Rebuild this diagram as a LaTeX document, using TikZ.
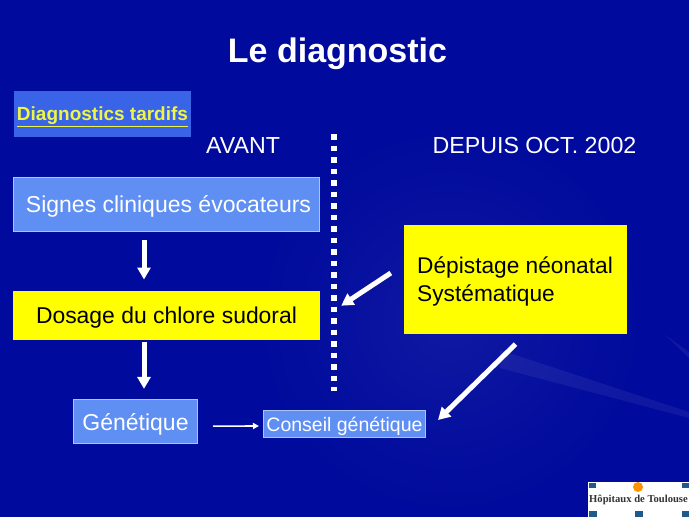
\documentclass[tikz,border=0pt]{standalone}
\usepackage{fontspec}
\setmainfont{Liberation Sans}
\newfontfamily\logofont{Liberation Serif}
\usepackage{xcolor}
\usepackage{tikz}
\usetikzlibrary{arrows.meta,positioning}

\definecolor{navy}{HTML}{000358}
\definecolor{midblue}{HTML}{000A9C}
\definecolor{lightbox}{HTML}{5F8FF2}
\definecolor{edgebox}{HTML}{A9C4F5}
\definecolor{tagblue}{HTML}{3A64E8}
\definecolor{logoblue}{HTML}{1F5A8C}
\definecolor{purebright}{RGB}{255,255,0}
\definecolor{tagyellow}{RGB}{238,245,70}

\pgfdeclareradialshading{bgglow}{\pgfpoint{0pt}{0pt}}{%
  color(0pt)=(midblue!94!white);
  color(8bp)=(midblue);
  color(24bp)=(midblue);
  color(38bp)=(navy);
  color(50bp)=(navy)}

\begin{document}
\begin{tikzpicture}[
      x=1pt, y=-1pt,
      >=Latex,
      node distance=58.5pt,
      bigbox/.style={draw=edgebox, line width=1pt, fill=lightbox, text=white, text depth=0pt, minimum width=306pt, minimum height=54pt, inner sep=0pt},
      yellowbox/.style={fill=purebright, text=black, inner sep=0pt},
      head/.style={text=white, inner sep=0pt},
      arr/.style={-{Triangle[width=13pt,length=12pt]}, draw=white, line width=5pt},
      thinarr/.style={-{Triangle[width=6pt,length=6pt]}, draw=white, line width=1.6pt},
      streak/.style={fill=white, fill opacity=0.06}
    ]
    \useasboundingbox (0,0) rectangle (689,517);
    \begin{scope}
      \clip (0,0) rectangle (689,517);
      \fill[navy] (0,0) rectangle (689,517);
      \shade[shading=bgglow] (450,320) circle (600pt);
      \fill[streak] (500,350) -- (689,412) -- (689,418) -- (500,368) -- cycle;
      \fill[streak] (664,334) -- (689,352) -- (689,358) -- cycle;
    \end{scope}

    \node[head, text depth=0pt, font=\bfseries\fontsize{34}{38}\selectfont] (title) at (337.5,50) {Le diagnostic};

    % Top left: tag and column heads
    \node[fill=tagblue, text=tagyellow, text depth=0pt, font=\bfseries\fontsize{19}{22}\selectfont, minimum width=177pt, minimum height=46pt, inner sep=0pt] (tardifs) at (102.5,114) {\underline{Diagnostics tardifs}};
    \node[head, font=\fontsize{23.2}{27}\selectfont] (avant) at (243,146) {AVANT};
    \node[head, font=\fontsize{23.2}{27}\selectfont] (depuis) at (534.5,146) {DEPUIS OCT. 2002};

    % Left column
    \node[bigbox, font=\fontsize{23}{27}\selectfont] (signes) at (166.5,204.5) {\kern4pt Signes cliniques évocateurs};
    \node[yellowbox, text depth=0pt, minimum width=307pt, minimum height=49pt, font=\fontsize{22.9}{26}\selectfont, below=of signes] (dosage) {Dosage du chlore sudoral};
    \node[bigbox, minimum width=124pt, minimum height=43.5pt, font=\fontsize{23}{27}\selectfont, below=59.5pt of dosage, xshift=-31pt] (genetique) {Génétique};

    % Right side
    \node[yellowbox, text depth=0pt, minimum width=223pt, minimum height=109pt, font=\fontsize{22.7}{28}\selectfont, align=left] (depistage) at (515.5,279.5) {Dépistage néonatal\\Systématique\rule{59pt}{0pt}};
    \node[bigbox, minimum width=162pt, minimum height=27pt, font=\fontsize{19.5}{23}\selectfont] (conseil) at (344.5,424) {Conseil génétique};

    % Dotted divider
    \coordinate (divtop) at (334,134);
    \coordinate (divbot) at (334,391);
    \draw[white, line width=5.5pt, dash pattern=on 5.5pt off 6pt] (divtop) -- (divbot);

    % Arrows
    \draw[arr] ([xshift=-22.5pt, yshift=-8pt]signes.south) -- ([xshift=-22.5pt, yshift=11pt]dosage.north);
    \draw[arr] ([xshift=-22.5pt, yshift=-2pt]dosage.south) -- ([xshift=-22.5pt, yshift=10.5pt]genetique.north -| signes.south);
    \draw[arr] ([xshift=-13pt, yshift=6.5pt]depistage.west) -- ([xshift=21pt, yshift=9.5pt]dosage.east);
    \draw[arr] ([yshift=-10pt]depistage.south) -- ([xshift=12pt, yshift=4pt]conseil.east);
    \draw[thinarr] ([xshift=15pt, yshift=-4.5pt]genetique.east) -- ([xshift=-4pt, yshift=-2pt]conseil.west);

    % Logo
    \node[fill=white, minimum width=101pt, minimum height=35pt, inner sep=0pt, font=\logofont\bfseries\fontsize{10.6}{12}\selectfont, text=black!80] (logo) at (638.5,499.5) {Hôpitaux de Toulouse};
    \fill[orange!85!yellow] (638,487) circle (5pt);
    \fill[logoblue] (589,483) rectangle (596,488);
    \fill[logoblue] (682,483) rectangle (689,488);
    \fill[logoblue] (589,511) rectangle (597,517);
    \fill[logoblue] (635,511) rectangle (643,517);
    \fill[logoblue] (682,511) rectangle (689,517);
  \end{tikzpicture}
\end{document}
